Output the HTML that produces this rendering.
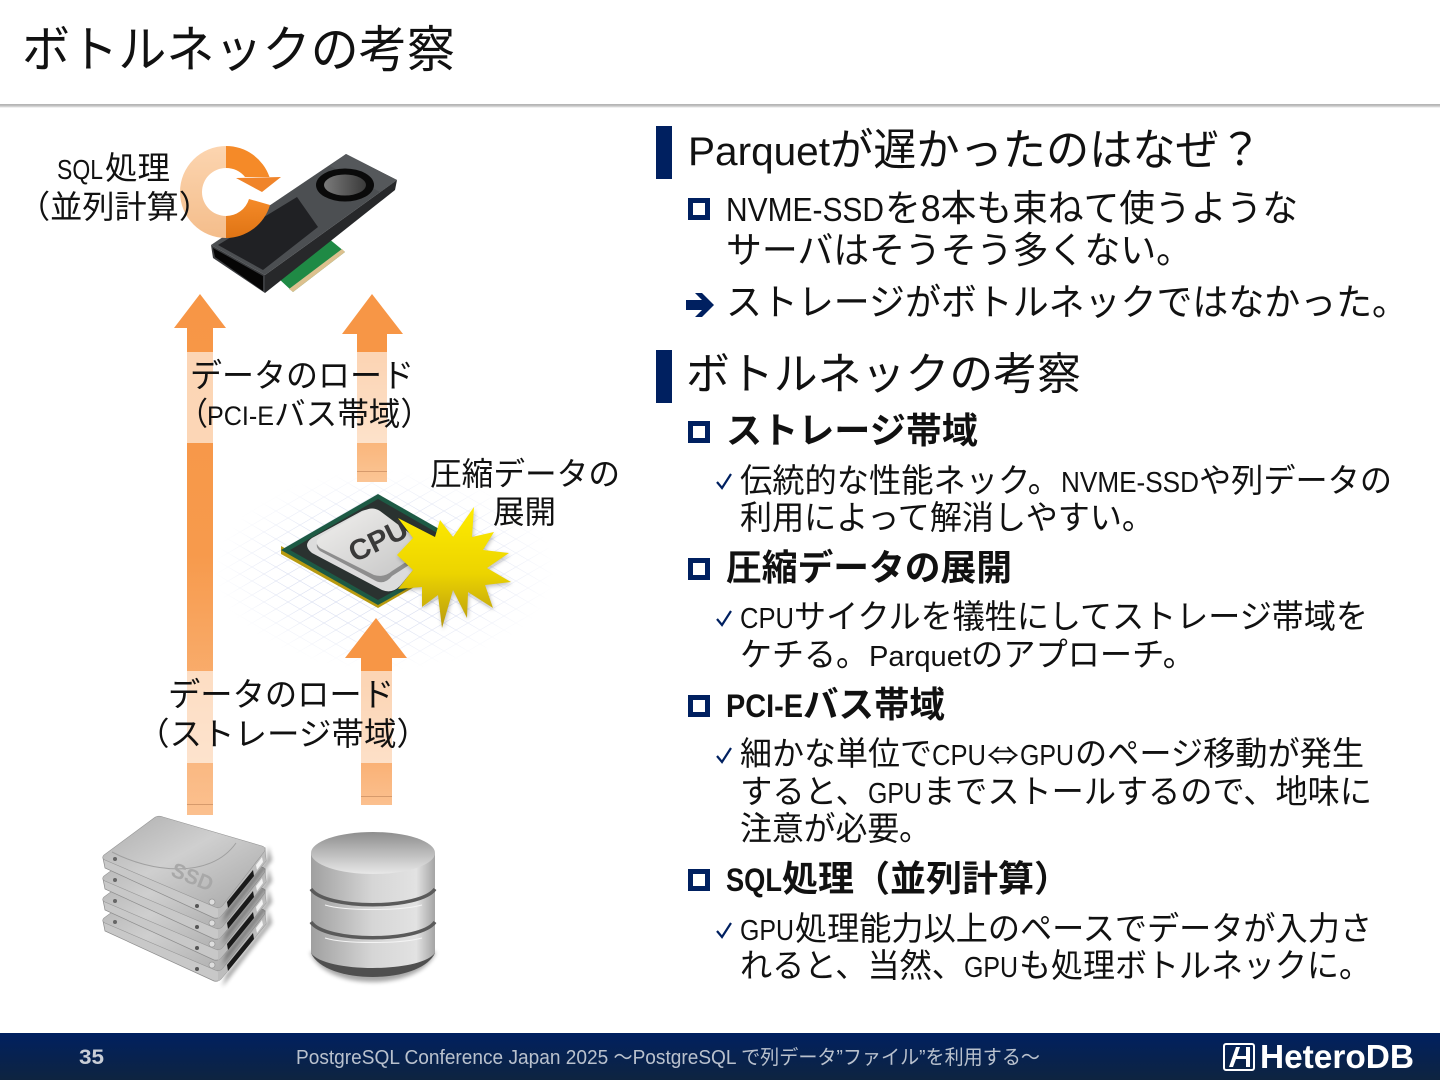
<!DOCTYPE html>
<html lang="ja"><head><meta charset="utf-8"><title>ボトルネックの考察</title>
<style>
html,body{margin:0;padding:0;background:#fff}
svg{display:block}
text{font-family:"Liberation Sans","Noto Sans CJK JP",sans-serif;fill:#111}
.b{font-weight:700}
.sym{font-family:"Noto Sans CJK JP","DejaVu Sans",sans-serif}
</style></head><body>
<svg width="1440" height="1080" viewBox="0 0 1440 1080" xmlns="http://www.w3.org/2000/svg">
<defs>
<linearGradient id="a1" x1="0" y1="294" x2="0" y2="815" gradientUnits="userSpaceOnUse"><stop offset="0" stop-color="#f79646"/><stop offset=".5" stop-color="#f79a4c"/><stop offset="1" stop-color="#fbc08f"/></linearGradient>
<linearGradient id="a2" x1="0" y1="294" x2="0" y2="482" gradientUnits="userSpaceOnUse"><stop offset="0" stop-color="#f79646"/><stop offset=".35" stop-color="#f79646"/><stop offset="1" stop-color="#fbc595"/></linearGradient>
<linearGradient id="a3" x1="0" y1="618" x2="0" y2="805" gradientUnits="userSpaceOnUse"><stop offset="0" stop-color="#f79646"/><stop offset=".35" stop-color="#f79646"/><stop offset="1" stop-color="#fbc08f"/></linearGradient>
<linearGradient id="foot" x1="0" y1="0" x2="0" y2="1"><stop offset="0" stop-color="#002060"/><stop offset="1" stop-color="#0e2440"/></linearGradient>
<linearGradient id="rule" x1="0" y1="0" x2="0" y2="1"><stop offset="0" stop-color="#b0b0b0"/><stop offset=".5" stop-color="#c4c4c4"/><stop offset="1" stop-color="#fff"/></linearGradient>
<linearGradient id="star" x1="0" y1="0" x2="0" y2="1"><stop offset="0" stop-color="#ffec00"/><stop offset=".55" stop-color="#ecd400"/><stop offset="1" stop-color="#b89a10"/></linearGradient>
<linearGradient id="ringL" x1="0" y1="0" x2="0" y2="1"><stop offset="0" stop-color="#fcd5b0"/><stop offset="1" stop-color="#f4bd8b"/></linearGradient>
<linearGradient id="ringR" x1="0" y1="0" x2="0" y2="1"><stop offset="0" stop-color="#f58a28"/><stop offset="1" stop-color="#df7414"/></linearGradient>
<linearGradient id="fan" x1="0" y1="0" x2="1" y2="0"><stop offset="0" stop-color="#7a7a7a"/><stop offset="1" stop-color="#3a3a3a"/></linearGradient>
<linearGradient id="ssd" x1="0" y1="0" x2="1" y2="1"><stop offset="0" stop-color="#adadad"/><stop offset=".45" stop-color="#cfcfcf"/><stop offset="1" stop-color="#a6a6a6"/></linearGradient>
<linearGradient id="cyl" x1="0" y1="0" x2="1" y2="0"><stop offset="0" stop-color="#a0a0a0"/><stop offset=".5" stop-color="#d6d6d6"/><stop offset=".85" stop-color="#e2e2e2"/><stop offset="1" stop-color="#a4a4a4"/></linearGradient>
<linearGradient id="cylT" x1="0" y1="0" x2="0" y2="1"><stop offset="0" stop-color="#8e8e8e"/><stop offset="1" stop-color="#e8e8e8"/></linearGradient>
<linearGradient id="hs" x1="0" y1="0" x2="1" y2="1"><stop offset="0" stop-color="#f2f1ef"/><stop offset="1" stop-color="#c4c4c4"/></linearGradient>
<pattern id="grid" width="24" height="14" patternUnits="userSpaceOnUse"><path d="M0 0L24 14M24 0L0 14" stroke="#b8c2e4" stroke-width=".6" fill="none"/></pattern>
<radialGradient id="fade"><stop offset="0" stop-color="#fff"/><stop offset=".6" stop-color="#aaa"/><stop offset="1" stop-color="#000"/></radialGradient>
<mask id="gm"><ellipse cx="385" cy="570" rx="170" ry="100" fill="url(#fade)"/></mask>
<filter id="sh" x="-20%" y="-20%" width="140%" height="140%"><feGaussianBlur stdDeviation="2"/></filter>
<g id="ssd1">
<path d="M226 912L267 860L268 846L272 860L222 924Z" fill="#000" opacity=".4" filter="url(#sh)"/>
<path d="M103 858L105 868L214 918Q218 919 221 916L266 861L265 848L218 908Z" fill="#c8c8c8" stroke="#8c8c8c" stroke-width=".7"/>
<path d="M218 908L265 848L266 861L221 916Q219 918 218 918Z" fill="#bdbdbd"/>
<path d="M227 902L253 870L254 876L228 908Z" fill="#1a1a1a"/>
<path d="M256 865L262 857L263 862L257 870Z" fill="#f2f2f2"/>
<path d="M104 855L154 818Q158 815 163 817L262 846Q267 848 264 852L223 905Q220 909 215 907L105 860Q101 858 104 855Z" fill="url(#ssd)" stroke="#969696" stroke-width=".6"/>
<circle cx="115" cy="859" r="2" fill="#666"/><circle cx="197" cy="906" r="2" fill="#555"/>
<circle cx="212" cy="902" r="3" fill="#ddd" stroke="#999" stroke-width=".8"/>
</g>
</defs>
<rect width="1440" height="1080" fill="#fff"/>

<!-- header -->
<rect x="0" y="104" width="1440" height="4" fill="url(#rule)"/>
<text x="22" y="67" font-size="50" textLength="433" lengthAdjust="spacingAndGlyphs">ボトルネックの考察</text>

<!-- footer -->
<rect x="0" y="1033" width="1440" height="47" fill="url(#foot)"/>
<text x="79" y="1064" font-size="21" class="b" style="fill:#c9ced6" textLength="25" lengthAdjust="spacingAndGlyphs">35</text>
<text x="296" y="1064" font-size="20" style="fill:#b9c1cd" textLength="744" lengthAdjust="spacingAndGlyphs">PostgreSQL Conference Japan 2025 ～PostgreSQL で列データ”ファイル”を利用する～</text>
<rect x="1224" y="1044" width="30" height="26" rx="2" fill="none" stroke="#fff" stroke-width="2"/>
<path d="M1229 1067L1236 1047H1240L1237 1056H1246V1047H1250V1067H1246V1059H1236L1233 1067Z" fill="#fff"/>
<text x="1260" y="1068" font-size="33" class="b" style="fill:#fff" textLength="154" lengthAdjust="spacingAndGlyphs">HeteroDB</text>

<!-- right column -->
<rect x="656" y="126" width="16" height="53" fill="#002060"/>
<rect x="656" y="350" width="16" height="53" fill="#002060"/>
<g fill="none" stroke="#002060" stroke-width="5">
<rect x="690.500" y="200.500" width="17" height="17"/>
<rect x="690.500" y="423.500" width="17" height="17"/>
<rect x="690.500" y="560.500" width="17" height="17"/>
<rect x="690.500" y="697.500" width="17" height="17"/>
<rect x="690.500" y="871.500" width="17" height="17"/>
</g>
<path d="M686 300h16l-7-7h7l12 12-12 12h-7l7-7h-16z" fill="#002060"/>
<g fill="none" stroke="#002060" stroke-width="2.200">
<path d="M717 482l5 6 9-14"/>
<path d="M717 619l5 6 9-14"/>
<path d="M717 756l5 6 9-14"/>
<path d="M717 931l5 6 9-14"/>
</g>

<text x="688" y="165" font-size="40" textLength="142" lengthAdjust="spacingAndGlyphs">Parquet</text>
<text x="830" y="165" font-size="44" textLength="432" lengthAdjust="spacingAndGlyphs">が遅かったのはなぜ？</text>

<text x="726" y="221" font-size="33" textLength="158" lengthAdjust="spacingAndGlyphs">NVME-SSD</text>
<text x="885" y="221" font-size="37" textLength="413" lengthAdjust="spacingAndGlyphs">を8本も束ねて使うような</text>
<text x="726" y="263" font-size="37" textLength="466" lengthAdjust="spacingAndGlyphs">サーバはそうそう多くない。</text>
<text x="726" y="315" font-size="37" textLength="682" lengthAdjust="spacingAndGlyphs">ストレージがボトルネックではなかった。</text>

<text x="686" y="389" font-size="44" textLength="395" lengthAdjust="spacingAndGlyphs">ボトルネックの考察</text>

<text x="726" y="443" font-size="36" class="b" textLength="252" lengthAdjust="spacingAndGlyphs">ストレージ帯域</text>
<text x="740" y="492" font-size="33" textLength="320" lengthAdjust="spacingAndGlyphs">伝統的な性能ネック。</text>
<text x="1061" y="492" font-size="29" textLength="138" lengthAdjust="spacingAndGlyphs">NVME-SSD</text>
<text x="1199" y="492" font-size="33" textLength="193" lengthAdjust="spacingAndGlyphs">や列データの</text>
<text x="740" y="529" font-size="33" textLength="414" lengthAdjust="spacingAndGlyphs">利用によって解消しやすい。</text>

<text x="726" y="580" font-size="36" class="b" textLength="286" lengthAdjust="spacingAndGlyphs">圧縮データの展開</text>
<text x="740" y="628" font-size="29" textLength="54" lengthAdjust="spacingAndGlyphs">CPU</text>
<text x="794" y="628" font-size="33" textLength="574" lengthAdjust="spacingAndGlyphs">サイクルを犠牲にしてストレージ帯域を</text>
<text x="740" y="666" font-size="33" textLength="128" lengthAdjust="spacingAndGlyphs">ケチる。</text>
<text x="869" y="666" font-size="29" textLength="102" lengthAdjust="spacingAndGlyphs">Parquet</text>
<text x="971" y="666" font-size="33" textLength="224" lengthAdjust="spacingAndGlyphs">のアプローチ。</text>

<text x="726" y="717" font-size="32" class="b" textLength="77" lengthAdjust="spacingAndGlyphs">PCI-E</text>
<text x="803" y="717" font-size="36" class="b" textLength="142" lengthAdjust="spacingAndGlyphs">バス帯域</text>
<text x="740" y="765" font-size="33" textLength="192" lengthAdjust="spacingAndGlyphs">細かな単位で</text>
<text x="932" y="765" font-size="29" textLength="54" lengthAdjust="spacingAndGlyphs">CPU</text>
<text x="987" y="765" font-size="26" class="sym" textLength="32" lengthAdjust="spacingAndGlyphs">⇔</text>
<text x="1020" y="765" font-size="29" textLength="54" lengthAdjust="spacingAndGlyphs">GPU</text>
<text x="1075" y="765" font-size="33" textLength="289" lengthAdjust="spacingAndGlyphs">のページ移動が発生</text>
<text x="740" y="803" font-size="33" textLength="128" lengthAdjust="spacingAndGlyphs">すると、</text>
<text x="868" y="803" font-size="29" textLength="54" lengthAdjust="spacingAndGlyphs">GPU</text>
<text x="923" y="803" font-size="33" textLength="449" lengthAdjust="spacingAndGlyphs">までストールするので、地味に</text>
<text x="740" y="840" font-size="33" textLength="191" lengthAdjust="spacingAndGlyphs">注意が必要。</text>

<text x="726" y="891" font-size="32" class="b" textLength="56" lengthAdjust="spacingAndGlyphs">SQL</text>
<text x="782" y="891" font-size="36" class="b" textLength="288" lengthAdjust="spacingAndGlyphs">処理（並列計算）</text>
<text x="740" y="940" font-size="29" textLength="54" lengthAdjust="spacingAndGlyphs">GPU</text>
<text x="795" y="940" font-size="33" textLength="577" lengthAdjust="spacingAndGlyphs">処理能力以上のペースでデータが入力さ</text>
<text x="740" y="977" font-size="33" textLength="224" lengthAdjust="spacingAndGlyphs">れると、当然、</text>
<text x="964" y="977" font-size="29" textLength="54" lengthAdjust="spacingAndGlyphs">GPU</text>
<text x="1019" y="977" font-size="33" textLength="352" lengthAdjust="spacingAndGlyphs">も処理ボトルネックに。</text>

<!-- CPU grid -->
<rect x="205" y="460" width="360" height="220" fill="url(#grid)" mask="url(#gm)" opacity=".7"/>

<!-- arrows -->
<path d="M200 294L226 328H213V815H187V328H174Z" fill="url(#a1)"/>
<rect x="187" y="804" width="26" height="1" fill="#d69a6c"/>
<path d="M372 294L403 334H387V482H357V334H342Z" fill="url(#a2)"/>
<rect x="357" y="471" width="30" height="1" fill="#d69a6c"/>
<path d="M376 618L407 658H392V805H361V658H345Z" fill="url(#a3)"/>
<rect x="361" y="796" width="31" height="1" fill="#d69a6c"/>

<!-- GPU -->
<path d="M328 238L345 252L293 292L278 278Z" fill="#1f8a45"/>
<path d="M345 252L293 292L289 289L342 249Z" fill="#dcc08e"/>
<path d="M211 245L265 275L265 293L213 258Z" fill="#3a3c3f"/>
<path d="M213 248L263 276L263 291L215 257Z" fill="#050505"/>
<path d="M397 180L395 190L265 293L265 275Z" fill="#27282a"/>
<path d="M346 154L397 180L265 275L211 245Z" fill="#4c4f52"/>
<path d="M346 154L397 180L380 192L330 166Z" fill="#55585b"/>
<path d="M297 197L318 227L263 270L218 245Z" fill="#202124"/>
<ellipse cx="345" cy="185" rx="29" ry="16.500" fill="#0a0a0a"/>
<ellipse cx="345" cy="185" rx="21" ry="10.500" fill="url(#fan)"/>

<!-- refresh ring -->
<path d="M226 146A46 46 0 0 0 226 238V216A24 24 0 0 1 226 168Z" fill="url(#ringL)"/>
<path d="M226 146A46 46 0 0 1 269.500 177H245A24 24 0 0 0 226 168Z" fill="#f58a28"/>
<path d="M236 178L281 177L262 192Z" fill="#f0842a"/>
<path d="M226 238A46 46 0 0 0 270 205L249 199A24 24 0 0 1 226 216Z" fill="url(#ringR)"/>

<!-- CPU -->
<path d="M281 554L378 608L475 552L475 548L378 600L281 546Z" fill="#b89a10"/>
<path d="M281 550L378 494L476 550L378 605Z" fill="#1d5a44"/>
<path d="M290 550L378 499L467 550L378 600Z" fill="#2a3230"/>
<path d="M312 553Q302 545 312 538L360 512Q368 507 376 513L428 552L400 586Q392 594 382 590Z" fill="#dcdcdc"/>
<path d="M320 551Q313 545 321 539L364 513Q372 508 380 513L420 544Q426 550 420 558L392 576Q384 586 374 580Z" fill="#8e8e8e"/>
<path d="M320 548Q313 542 321 536L364 511Q372 506 380 511L420 541Q426 547 420 553L392 571Q384 578 374 575Z" fill="url(#hs)"/>
<text x="379" y="550" font-size="29" text-anchor="middle" class="b" style="fill:#3a3a3a" textLength="62" lengthAdjust="spacingAndGlyphs" transform="rotate(-26 379 542)">CPU</text>

<!-- star -->
<path d="M474 507L472 537L494 532L483 550L509 553L487 568L511 582L485 585L493 608L468 592L467 618L453 590L442 628L438 595L422 607L422 587L398 589L413 570L397 555L413 538L398 518L435 537L440 520L453 537Z" fill="#000" opacity=".25" filter="url(#sh)" transform="translate(1 2)"/>
<path d="M474 507L472 537L494 532L483 550L509 553L487 568L511 582L485 585L493 608L468 592L467 618L453 590L442 628L438 595L422 607L422 587L398 589L413 570L397 555L413 538L398 518L435 537L440 520L453 537Z" fill="url(#star)"/>

<!-- SSD stack -->
<use href="#ssd1" y="63"/><use href="#ssd1" y="42"/><use href="#ssd1" y="21"/><use href="#ssd1"/>
<path d="M112 852C150 872 210 880 236 843" fill="none" stroke="#a0a0a0" stroke-width="1"/>
<text x="192" y="884" font-size="21" class="b" text-anchor="middle" style="fill:#a8a8a8" transform="rotate(22 192 878)">SSD</text>

<!-- DB -->
<path d="M310 952C325 992 420 992 436 952Z" fill="#000" opacity=".35" filter="url(#sh)"/>
<path d="M311 853V953C325 985 420 985 435 953V853Z" fill="#4f4f4f"/>
<path d="M311 853V953C325 980 420 980 435 953V853Z" fill="url(#cyl)"/>
<path d="M311 953C325 982 420 982 435 953C420 973 325 973 311 953Z" fill="#4f4f4f"/>
<ellipse cx="373" cy="853" rx="62" ry="21" fill="url(#cylT)"/>
<path d="M311 889C325 910 420 910 435 889" fill="none" stroke="#5a5a5a" stroke-width="3.500"/>
<path d="M325 902C345 908 400 908 422 902" fill="none" stroke="#f4f4f4" stroke-width="1" transform="translate(0 3)"/>
<path d="M311 922C325 943 420 943 435 922" fill="none" stroke="#5a5a5a" stroke-width="3.500"/>
<path d="M325 935C345 941 400 941 422 935" fill="none" stroke="#f4f4f4" stroke-width="1" transform="translate(0 3)"/>

<!-- translucent label bands -->
<rect x="180" y="352" width="240" height="91" fill="#fff" opacity=".6"/>
<rect x="150" y="671" width="260" height="92" fill="#fff" opacity=".6"/>

<!-- left labels -->
<text x="57" y="179" font-size="28" textLength="46" lengthAdjust="spacingAndGlyphs">SQL</text>
<text x="105" y="179" font-size="32" textLength="65" lengthAdjust="spacingAndGlyphs">処理</text>
<text x="18" y="218" font-size="32" textLength="193" lengthAdjust="spacingAndGlyphs">（並列計算）</text>
<text x="190" y="387" font-size="33" textLength="224" lengthAdjust="spacingAndGlyphs">データのロード</text>
<text x="178" y="425" font-size="32" textLength="30" lengthAdjust="spacingAndGlyphs">（</text>
<text x="207" y="425" font-size="27" textLength="67" lengthAdjust="spacingAndGlyphs">PCI-E</text>
<text x="274" y="425" font-size="32" textLength="158" lengthAdjust="spacingAndGlyphs">バス帯域）</text>
<text x="430" y="485" font-size="32" textLength="190" lengthAdjust="spacingAndGlyphs">圧縮データの</text>
<text x="493" y="523" font-size="32" textLength="63" lengthAdjust="spacingAndGlyphs">展開</text>
<text x="168" y="706" font-size="33" textLength="226" lengthAdjust="spacingAndGlyphs">データのロード</text>
<text x="137" y="745" font-size="32" textLength="292" lengthAdjust="spacingAndGlyphs">（ストレージ帯域）</text>
</svg>
</body></html>
